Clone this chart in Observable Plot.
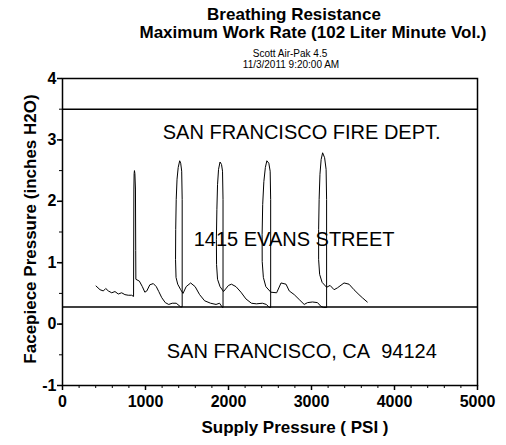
<!DOCTYPE html>
<html>
<head>
<meta charset="utf-8">
<script src="https://cdn.jsdelivr.net/npm/d3@7"></script>
<script src="https://cdn.jsdelivr.net/npm/@observablehq/plot@0.6"></script>
<style>
  html, body { margin: 0; padding: 0; background: white; }
  body { width: 506px; height: 445px; overflow: hidden; font-family: "Liberation Sans", Arial, sans-serif; color: black; }
  #header { position: relative; height: 70px; width: 506px; }
  #header div { position: absolute; white-space: nowrap; transform: translateX(-50%); }
  .t1 { font-size: 17px; font-weight: bold; line-height: 17px; }
  .t2 { font-size: 10px; line-height: 10px; }
  #chart svg { display: block; }
</style>
</head>
<body>
<div id="header">
  <div class="t1" style="left:294px; top:6px;">Breathing Resistance</div>
  <div class="t1" style="left:313px; top:24px;">Maximum Work Rate (102 Liter Minute Vol.)</div>
  <div class="t2" style="left:290px; top:49px;">Scott Air-Pak 4.5</div>
  <div class="t2" style="left:291px; top:60px;">11/3/2011 9:20:00 AM</div>
</div>
<div id="chart"></div>
<script>
// Supply pressure (PSI) along the trace, in drawing order
const supplyPsi = [
  404, 452, 492, 521, 552, 593, 632, 672, 713, 752, 792, 833, 856,
  860, 863, 867, 872, 879, 882, 884,
  926, 962, 992, 1016, 1052, 1094, 1130, 1160, 1196, 1238, 1280, 1322, 1370, 1424,
  1442, 1442, 1436, 1424, 1412, 1394, 1380, 1370, 1364, 1362, 1368, 1388, 1424, 1452,
  1490, 1544, 1598, 1652, 1712, 1784, 1850, 1892, 1928,
  1934, 1934, 1928, 1916, 1898, 1880, 1868, 1860, 1854, 1856, 1868, 1898, 1940,
  2000, 2036, 2090, 2150, 2210, 2276, 2336, 2408, 2456, 2492,
  2508, 2508, 2502, 2486, 2462, 2444, 2426, 2412, 2405, 2406, 2420, 2450, 2510,
  2580, 2633, 2693, 2732, 2792, 2852, 2912, 2952, 3012, 3072, 3113, 3144,
  3182, 3182, 3176, 3158, 3134, 3116, 3102, 3092, 3086, 3086, 3098, 3128, 3182,
  3224, 3272, 3312, 3392, 3452, 3512, 3572, 3612, 3672
];
// Facepiece pressure (inches H2O)
const faceH2O = [
  0.62, 0.56, 0.54, 0.58, 0.54, 0.51, 0.53, 0.49, 0.51, 0.48, 0.47, 0.47, 0.45,
  2.2, 2.45, 2.5, 2.45, 2.2, 1.2, 0.73,
  0.70, 0.61, 0.52, 0.54, 0.64, 0.66, 0.61, 0.53, 0.43, 0.35, 0.32, 0.34, 0.34, 0.28,
  0.28, 2.03, 2.49, 2.62, 2.66, 2.55, 2.36, 2.03, 1.54, 1.05, 0.76, 0.65, 0.56, 0.50,
  0.61, 0.67, 0.61, 0.48, 0.38, 0.34, 0.32, 0.34, 0.27,
  0.27, 2.03, 2.49, 2.60, 2.64, 2.52, 2.27, 1.87, 1.38, 0.97, 0.73, 0.61, 0.53,
  0.63, 0.65, 0.61, 0.52, 0.41, 0.34, 0.33, 0.34, 0.32, 0.27,
  0.27, 2.03, 2.49, 2.62, 2.66, 2.55, 2.32, 1.95, 1.46, 1.02, 0.76, 0.61, 0.52,
  0.51, 0.67, 0.65, 0.54, 0.48, 0.40, 0.32, 0.35, 0.36, 0.35, 0.29, 0.27,
  0.27, 2.03, 2.52, 2.71, 2.79, 2.68, 2.44, 2.03, 1.54, 1.05, 0.81, 0.68, 0.60,
  0.63, 0.56, 0.59, 0.67, 0.65, 0.56, 0.48, 0.43, 0.36
];
const limitLines = [3.5, 0.28];
const xTicks = [0, 1000, 2000, 3000, 4000, 5000];
const xMinorTicks = d3.range(0, 5001, 200);
const yTicks = [-1, 0, 1, 2, 3, 4];
const yMinorTicks = d3.range(-1, 4.01, 0.5);
const noteText = ["SAN FRANCISCO FIRE DEPT.", "1415 EVANS STREET", "SAN FRANCISCO, CA\u00a0 94124"];
const noteX = [1208, 1580, 1256];
const noteY = [3.12, 1.38, -0.44];
const xLabel = "Supply Pressure ( PSI )";
const yLabel = "Facepiece Pressure (inches H2O)";

const chart = Plot.plot({
  width: 506,
  height: 375,
  marginTop: 8,
  marginLeft: 62,
  marginRight: 29,
  marginBottom: 60,
  x: {domain: [0, 5000]},
  y: {domain: [-1, 4]},
  style: {fontFamily: "'Liberation Sans', Arial, sans-serif", background: "white", color: "black", overflow: "visible"},
  marks: [
    Plot.axisX(xMinorTicks, {tickSize: 3, tickFormat: () => "", label: null, stroke: "black"}),
    Plot.axisY(yMinorTicks, {tickSize: 3, tickFormat: () => "", label: null, stroke: "black"}),
    Plot.axisX(xTicks, {tickSize: 5, tickPadding: 5, fontSize: 16, fontWeight: "bold", label: null, tickFormat: d => String(d), stroke: "black", strokeWidth: 1.5}),
    Plot.axisY(yTicks, {tickSize: 5, tickPadding: 1, fontSize: 16, fontWeight: "bold", label: null, tickFormat: d => String(d), stroke: "black", strokeWidth: 1.5}),
    Plot.frame({stroke: "black", strokeWidth: 1.5}),
    Plot.ruleY(limitLines, {stroke: "black", strokeWidth: 1.5}),
    Plot.text(noteText, {x: noteX, y: noteY, text: noteText, textAnchor: "start", lineAnchor: "middle", fontSize: 20, fill: "black"}),
    Plot.line(faceH2O, {x: supplyPsi, y: faceH2O, stroke: "black", strokeWidth: 1}),
    Plot.text([xLabel], {frameAnchor: "bottom", textAnchor: "middle", dx: 25, dy: 42, lineAnchor: "middle", fontSize: 17, fontWeight: "bold", fill: "black"}),
    Plot.text([yLabel], {frameAnchor: "left", textAnchor: "middle", dx: -32, dy: -3, rotate: -90, lineAnchor: "middle", fontSize: 17, fontWeight: "bold", fill: "black"})
  ]
});
document.getElementById("chart").appendChild(chart);
</script>
</body>
</html>
